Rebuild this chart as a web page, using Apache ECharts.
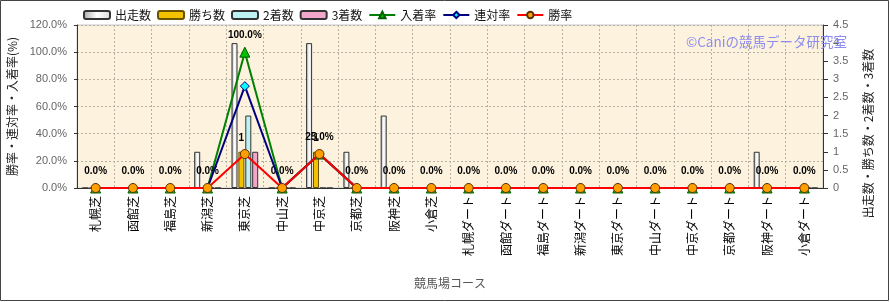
<!DOCTYPE html>
<html>
<head>
<meta charset="utf-8">
<script src="https://cdn.jsdelivr.net/npm/echarts@6/dist/echarts.min.js"></script>
<style>
  html, body { margin: 0; padding: 0; background: #fff; }
  #chart { width: 890px; height: 302px; }
</style>
</head>
<body>
<div id="chart"></div>
<script>
// 競馬場コース
const courses = ['札幌芝', '函館芝', '福島芝', '新潟芝', '東京芝', '中山芝', '中京芝', '京都芝', '阪神芝', '小倉芝',
  '札幌ダート', '函館ダート', '福島ダート', '新潟ダート', '東京ダート', '中山ダート', '中京ダート', '京都ダート', '阪神ダート', '小倉ダート']

// 回数（右軸）
const runs   = [0, 0, 0, 1, 4, 0, 4, 1, 2, 0, 0, 0, 0, 0, 0, 0, 0, 0, 1, 0]
const wins   = [0, 0, 0, 0, 1, 0, 1, 0, 0, 0, 0, 0, 0, 0, 0, 0, 0, 0, 0, 0]
const second = [0, 0, 0, 0, 2, 0, 0, 0, 0, 0, 0, 0, 0, 0, 0, 0, 0, 0, 0, 0]
const third  = [0, 0, 0, 0, 1, 0, 0, 0, 0, 0, 0, 0, 0, 0, 0, 0, 0, 0, 0, 0]

// 率（左軸, %）
const placeRate = [0, 0, 0, 0, 100, 0, 25, 0, 0, 0, 0, 0, 0, 0, 0, 0, 0, 0, 0, 0]
const top2Rate  = [0, 0, 0, 0, 75, 0, 25, 0, 0, 0, 0, 0, 0, 0, 0, 0, 0, 0, 0, 0]
const winRate   = [0, 0, 0, 0, 25, 0, 25, 0, 0, 0, 0, 0, 0, 0, 0, 0, 0, 0, 0, 0]

const leftTicks  = { min: 0, max: 120, interval: 20 }
const rightTicks = { min: 0, max: 4.5, interval: 0.5 }

const FONT = '"Noto Sans CJK JP", "Liberation Sans", sans-serif'
const LATIN = '"Liberation Sans", Arial, sans-serif'

const hideZero = p => (p.value ? String(p.value) : '')

function barSeries(name, data, fill, border, extra) {
  return Object.assign({
    name,
    type: 'bar',
    yAxisIndex: 1,
    data,
    barWidth: 6,
    barGap: '15%',
    itemStyle: { color: fill, borderColor: border, borderWidth: 1 },
  }, extra || {})
}

const chart = echarts.init(document.getElementById('chart'))
chart.setOption({
  animation: false,
  textStyle: { fontFamily: FONT },
  legend: {
    left: 83,
    top: 9,
    padding: 0,
    itemWidth: 26,
    itemHeight: 8,
    itemGap: 6,
    textStyle: { fontSize: 12, color: '#111', fontFamily: FONT },
    data: [
      { name: '出走数', icon: 'roundRect' },
      { name: '勝ち数', icon: 'roundRect' },
      { name: '2着数', icon: 'roundRect' },
      { name: '3着数', icon: 'roundRect' },
      '入着率', '連対率', '勝率',
    ],
  },
  grid: {
    left: 77, right: 67, top: 25, bottom: 114,
    containLabel: false,
    outerBoundsMode: 'none',
    show: true,
    backgroundColor: '#FCF2DD',
    borderColor: '#c8c8c8',
    borderWidth: 1,
  },
  xAxis: {
    type: 'category',
    data: courses,
    name: '競馬場コース',
    nameLocation: 'middle',
    nameGap: 89,
    nameTextStyle: { fontSize: 12, color: '#555' },
    axisLine: { lineStyle: { color: '#333' } },
    axisTick: { show: false },
    axisLabel: { rotate: 90, interval: 0, fontSize: 12, color: '#000', margin: 8 },
    splitLine: { show: true, interval: 0, lineStyle: { color: '#b8b0a0', type: [2, 2], width: 1 } },
  },
  yAxis: [
    {
      type: 'value',
      ...leftTicks,
      name: '勝率・連対率・入着率(%)',
      nameLocation: 'middle',
      nameRotate: 90,
      nameGap: 56,
      nameTextStyle: { fontSize: 12, color: '#222' },
      axisLine: { show: true, lineStyle: { color: '#333' } },
      axisTick: { show: true, length: 3, lineStyle: { color: '#333' } },
      axisLabel: { fontSize: 11, color: '#666', margin: 10, fontFamily: LATIN, formatter: v => v.toFixed(1) + '%' },
      splitLine: { show: true, lineStyle: { color: '#b8b0a0', type: [2, 2], width: 1 } },
    },
    {
      type: 'value',
      ...rightTicks,
      position: 'right',
      name: '出走数・勝ち数・2着数・3着数',
      nameLocation: 'middle',
      nameRotate: 90,
      nameGap: 39,
      nameTextStyle: { fontSize: 12, color: '#222', padding: [0, 54, 0, 0] },
      axisLine: { show: true, lineStyle: { color: '#333' } },
      axisTick: { show: true, length: 5, lineStyle: { color: '#333' } },
      axisLabel: { fontSize: 11, color: '#666', margin: 10, fontFamily: LATIN },
      splitLine: { show: false },
    },
  ],
  series: [
    barSeries('出走数', runs,
      new echarts.graphic.LinearGradient(0, 0, 1, 0, [
        { offset: 0, color: '#a8a8a8' }, { offset: 0.5, color: '#ffffff' }, { offset: 1, color: '#d8d8d8' },
      ]), '#333'),
    barSeries('勝ち数', wins, '#F2C200', '#6b5200', {
      label: {
        show: true, position: 'top', distance: 9, formatter: hideZero,
        fontSize: 10, fontWeight: 'bold', color: '#000', fontFamily: LATIN,
      },
    }),
    barSeries('2着数', second, '#BDF2F2', '#333'),
    barSeries('3着数', third, '#F2A6CC', '#333'),
    {
      name: '入着率',
      type: 'line',
      data: placeRate,
      lineStyle: { color: '#008000', width: 2 },
      itemStyle: { color: '#00C000', borderColor: '#006000', borderWidth: 1 },
      symbol: 'triangle',
      symbolSize: 10,
      label: {
        show: true, position: 'top', distance: 6,
        formatter: p => p.value.toFixed(1) + '%',
        fontSize: 10, fontWeight: 'bold', color: '#000', fontFamily: LATIN,
      },
      z: 3,
    },
    {
      name: '連対率',
      type: 'line',
      data: top2Rate,
      lineStyle: { color: '#000080', width: 2 },
      itemStyle: { color: '#00FFFF', borderColor: '#000080', borderWidth: 1 },
      symbol: 'diamond',
      symbolSize: 9,
      z: 4,
    },
    {
      name: '勝率',
      type: 'line',
      data: winRate,
      lineStyle: { color: '#FF0000', width: 2 },
      itemStyle: { color: '#FFA000', borderColor: '#603000', borderWidth: 1 },
      symbol: 'circle',
      symbolSize: 9,
      z: 5,
    },
  ],
  graphic: [
    {
      type: 'rect',
      shape: { x: 0.5, y: 0.5, width: 888, height: 300 },
      style: { fill: 'none', stroke: '#444', lineWidth: 1 },
      silent: true,
    },
    {
      type: 'text',
      left: 686,
      top: 35,
      z: 100,
      style: { text: '©Caniの競馬データ研究室', fill: '#8C8CF0', font: '13.5px ' + FONT },
      silent: true,
    },
  ],
})
</script>
</body>
</html>
